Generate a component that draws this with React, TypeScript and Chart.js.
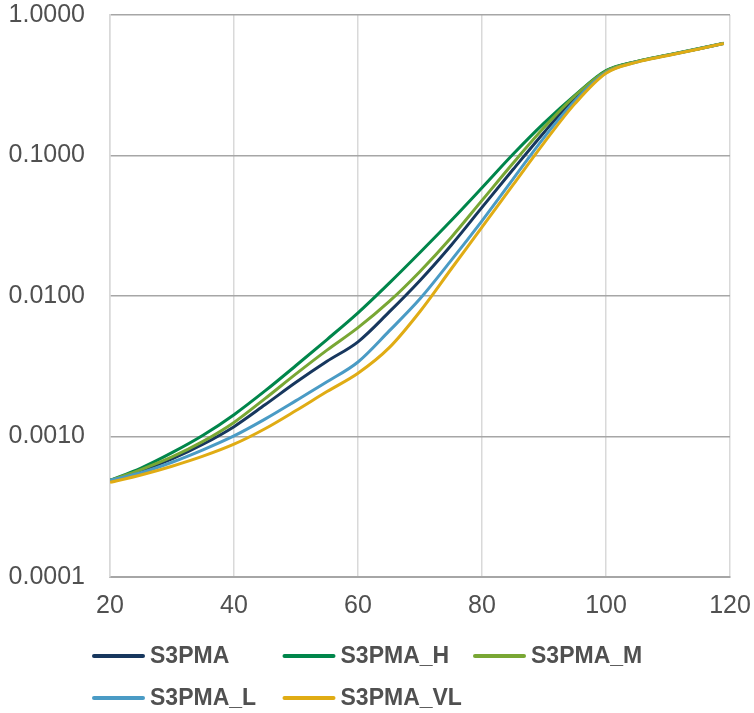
import React, { useEffect, useRef } from 'react';
import { Chart, registerables } from 'chart.js';

Chart.register(...registerables);

// Age (x values)
const ages = [20, 25, 30, 35, 40, 45, 50, 55, 60, 65, 70, 75, 80, 85, 90, 95, 100, 105, 110, 115, 119];

// Mortality rates per series (log scale)
const s3pma = [0.000487, 0.000569, 0.000692, 0.000881, 0.001175, 0.00168, 0.00243, 0.00343, 0.00472, 0.00767, 0.0129, 0.0229, 0.0427, 0.0794, 0.146, 0.257, 0.398, 0.466, 0.518, 0.575, 0.628];
const s3pmaH = [0.000487, 0.000596, 0.000767, 0.00102, 0.00143, 0.00211, 0.0032, 0.0049, 0.00759, 0.0123, 0.0204, 0.0343, 0.0589, 0.102, 0.17, 0.269, 0.403, 0.468, 0.52, 0.577, 0.629];
const s3pmaM = [0.000487, 0.000582, 0.000716, 0.000923, 0.00126, 0.00186, 0.00279, 0.00412, 0.00596, 0.00912, 0.01496, 0.026, 0.0479, 0.0881, 0.158, 0.266, 0.398, 0.467, 0.519, 0.576, 0.628];
const s3pmaL = [0.000487, 0.000552, 0.000656, 0.000804, 0.00101, 0.00133, 0.0018, 0.00245, 0.00339, 0.00562, 0.00955, 0.01786, 0.0343, 0.0679, 0.134, 0.245, 0.389, 0.463, 0.516, 0.574, 0.627];
const s3pmaVL = [0.000472, 0.000532, 0.000614, 0.000724, 0.000881, 0.001135, 0.00153, 0.00209, 0.00282, 0.00427, 0.00776, 0.0155, 0.0309, 0.0617, 0.123, 0.234, 0.385, 0.462, 0.515, 0.573, 0.627];

const seriesNames = ['S3PMA', 'S3PMA_H', 'S3PMA_M', 'S3PMA_L', 'S3PMA_VL'];
const seriesValues = [s3pma, s3pmaH, s3pmaM, s3pmaL, s3pmaVL];
const seriesColors = ['#17375e', '#00864b', '#79a734', '#4a9bc5', '#e0ac14'];

const yTickValues = [0.0001, 0.001, 0.01, 0.1, 1];
const xMin = 20;
const xMax = 120;
const xStep = 20;

const FONT = '"Liberation Sans", Arial, Helvetica, sans-serif';
const TEXT_COLOR = '#505050';

const gridLegendPlugin = {
  id: 'gridLegend',
  afterDraw(chart: any) {
    const ctx = chart.ctx;
    ctx.save();
    ctx.font = `bold 23px ${FONT}`;
    ctx.textBaseline = 'middle';
    ctx.textAlign = 'left';
    chart.data.datasets.forEach((ds: any, i: number) => {
      const col = i % 3;
      const row = Math.floor(i / 3);
      const x = 92 + col * 190.5;
      const y = 656 + row * 42;
      ctx.strokeStyle = ds.borderColor;
      ctx.lineWidth = 4;
      ctx.lineCap = 'round';
      ctx.beginPath();
      ctx.moveTo(x + 2, y);
      ctx.lineTo(x + 51, y);
      ctx.stroke();
      ctx.fillStyle = TEXT_COLOR;
      ctx.fillText(ds.label, x + 58, y + 1);
    });
    ctx.restore();
  },
};

const zeroPad = (scale: any) => {
  scale.paddingTop = 0;
  scale.paddingBottom = 0;
  scale.paddingLeft = 0;
  scale.paddingRight = 0;
};

export default function App() {
  const canvasRef = useRef<HTMLCanvasElement | null>(null);

  useEffect(() => {
    document.body.style.margin = '0';
    document.body.style.overflow = 'hidden';
    const canvas = canvasRef.current;
    if (!canvas) return;

    const datasets = seriesNames.map((name, i) => ({
      label: name,
      data: ages.map((a, j) => ({ x: a, y: seriesValues[i][j] })),
      borderColor: seriesColors[i],
      backgroundColor: seriesColors[i],
      borderWidth: 3,
      pointRadius: 0,
      fill: false,
      cubicInterpolationMode: 'monotone' as const,
      order: seriesNames.length - 1 - i,
    }));

    const chart = new Chart(canvas, {
      type: 'line',
      data: { datasets },
      plugins: [gridLegendPlugin],
      options: {
        animation: false,
        responsive: false,
        maintainAspectRatio: false,
        layout: { padding: { top: 15, right: 24, bottom: 91, left: 0 } },
        plugins: {
          legend: { display: false },
          tooltip: { enabled: false },
        },
        scales: {
          x: {
            type: 'linear',
            min: xMin,
            max: xMax,
            afterFit: (scale: any) => {
              scale.height = 45;
              zeroPad(scale);
            },
            ticks: {
              stepSize: xStep,
              padding: 14,
              color: TEXT_COLOR,
              font: { family: FONT, size: 25 },
              maxRotation: 0,
            },
            grid: {
              color: '#d9d9d9',
              lineWidth: 1.5,
              drawTicks: false,
            },
            border: { color: '#a6a6a6', width: 2 },
          },
          y: {
            type: 'logarithmic',
            min: 0.0001,
            max: 1,
            afterFit: (scale: any) => {
              scale.width = 110;
              zeroPad(scale);
            },
            afterBuildTicks: (scale: any) => {
              scale.ticks = yTickValues.map((v) => ({ value: v }));
            },
            ticks: {
              padding: 25,
              color: TEXT_COLOR,
              font: { family: FONT, size: 25 },
              callback: (v: any) => Number(v).toFixed(4),
            },
            grid: {
              color: '#a6a6a6',
              lineWidth: 1.5,
              drawTicks: false,
            },
            border: { color: '#d9d9d9', width: 1.5 },
          },
        },
      },
    });

    return () => {
      chart.destroy();
    };
  }, []);

  return (
    <div style={{ width: 754, height: 713, position: 'relative', background: '#ffffff' }}>
      <canvas ref={canvasRef} width={754} height={713} style={{ display: 'block' }} />
    </div>
  );
}
